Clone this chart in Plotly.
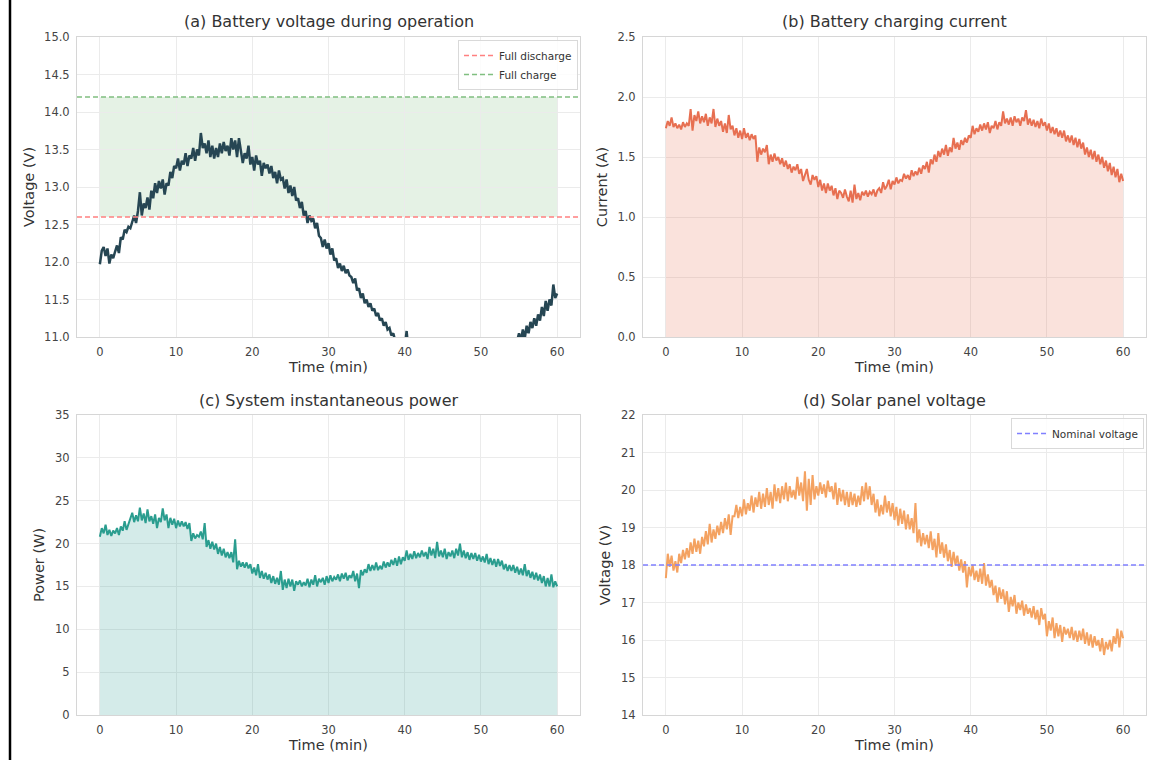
import plotly.graph_objects as go

# ---- data (sampled every 0.25 min, 0..60 min) ----
time_min = [i * 0.25 for i in range(241)]

battery_voltage = [
    11.97, 12.15, 12.20, 12.08, 12.18, 11.98, 12.10, 12.05,
    12.14, 12.22, 12.12, 12.33, 12.30, 12.43, 12.40, 12.47,
    12.45, 12.55, 12.62, 12.52, 12.68, 12.93, 12.62, 12.78,
    12.72, 12.86, 12.70, 12.95, 12.85, 13.05, 12.92, 13.08,
    12.98, 13.10, 12.90, 13.05, 13.02, 13.20, 13.12, 13.28,
    13.25, 13.38, 13.22, 13.35, 13.30, 13.45, 13.28, 13.42,
    13.38, 13.52, 13.35, 13.50, 13.42, 13.72, 13.52, 13.58,
    13.45, 13.62, 13.40, 13.55, 13.38, 13.52, 13.40, 13.58,
    13.45, 13.60, 13.48, 13.55, 13.42, 13.65, 13.50, 13.62,
    13.40, 13.65, 13.48, 13.32, 13.45, 13.38, 13.55, 13.30,
    13.40, 13.22, 13.42, 13.30, 13.35, 13.15, 13.32, 13.25,
    13.30, 13.18, 13.28, 13.12, 13.20, 13.05, 13.22, 13.10,
    13.12, 12.98, 13.10, 12.92, 13.02, 12.88, 13.00, 12.82,
    12.85, 12.72, 12.80, 12.62, 12.68, 12.52, 12.62, 12.55,
    12.58, 12.45, 12.52, 12.35, 12.32, 12.20, 12.30, 12.18,
    12.25, 12.10, 12.18, 12.02, 12.05, 11.92, 11.98, 11.88,
    11.95, 11.85, 11.90, 11.82, 11.80, 11.72, 11.78, 11.62,
    11.65, 11.52, 11.58, 11.45, 11.50, 11.40, 11.45, 11.35,
    11.38, 11.28, 11.32, 11.22, 11.25, 11.15, 11.20, 11.10,
    11.12, 11.02, 11.05, 10.95, 10.98, 10.88, 10.92, 10.82,
    10.85, 11.08, 10.80, 10.75, 10.78, 10.70, 10.98, 10.68,
    10.65, 10.60, 10.62, 10.55, 10.58, 10.50, 10.55, 10.48,
    10.50, 10.42, 10.48, 10.40, 10.45, 10.38, 10.42, 10.35,
    10.40, 10.32, 10.38, 10.30, 10.35, 10.30, 10.36, 10.28,
    10.34, 10.30, 10.38, 10.32, 10.40, 10.35, 10.42, 10.38,
    10.45, 10.40, 10.48, 10.44, 10.52, 10.48, 10.56, 10.52,
    10.60, 10.58, 10.66, 10.62, 10.70, 10.68, 10.76, 10.74,
    10.82, 10.80, 10.92, 10.95, 11.05, 10.95, 11.10, 10.98,
    11.15, 11.05, 11.20, 11.12, 11.25, 11.15, 11.30, 11.22,
    11.40, 11.28, 11.48, 11.35, 11.50, 11.42, 11.70, 11.52,
    11.58,
]

charging_current = [
    1.74, 1.80, 1.76, 1.83, 1.75, 1.78, 1.74, 1.77,
    1.73, 1.79, 1.75, 1.78, 1.76, 1.90, 1.72, 1.85,
    1.80, 1.88, 1.78, 1.84, 1.79, 1.86, 1.76, 1.83,
    1.78, 1.90, 1.75, 1.82, 1.76, 1.80, 1.71, 1.78,
    1.70, 1.85, 1.73, 1.76, 1.68, 1.74, 1.66, 1.72,
    1.65, 1.74, 1.66, 1.70, 1.64, 1.69, 1.65, 1.68,
    1.46, 1.58, 1.52, 1.57, 1.54, 1.60, 1.44, 1.52,
    1.46, 1.53, 1.47, 1.50, 1.44, 1.49, 1.42, 1.47,
    1.40, 1.44, 1.37, 1.42, 1.39, 1.44, 1.36, 1.40,
    1.30, 1.35, 1.40, 1.31, 1.27, 1.35, 1.31, 1.34,
    1.25, 1.31, 1.22, 1.28, 1.20, 1.28, 1.22, 1.26,
    1.18, 1.24, 1.15, 1.22, 1.20, 1.16, 1.23, 1.17,
    1.13, 1.22, 1.12, 1.27, 1.15, 1.20, 1.14, 1.21,
    1.18, 1.22, 1.17, 1.21, 1.19, 1.23, 1.17, 1.22,
    1.24, 1.20, 1.29, 1.23, 1.26, 1.31, 1.23, 1.30,
    1.27, 1.33, 1.28, 1.31, 1.30, 1.36, 1.32, 1.35,
    1.31, 1.39, 1.34, 1.38, 1.35, 1.41, 1.36, 1.43,
    1.40, 1.46, 1.37, 1.48, 1.44, 1.52, 1.46, 1.55,
    1.50, 1.57, 1.52, 1.60, 1.51, 1.58, 1.54, 1.66,
    1.57, 1.62, 1.56, 1.64, 1.60, 1.66, 1.62, 1.68,
    1.66, 1.76, 1.69, 1.74, 1.71, 1.77, 1.72, 1.78,
    1.73, 1.79, 1.70, 1.76, 1.74, 1.80, 1.73, 1.79,
    1.76, 1.88, 1.78, 1.82, 1.77, 1.83, 1.76, 1.84,
    1.79, 1.82, 1.76, 1.83, 1.80, 1.89, 1.77, 1.82,
    1.76, 1.81, 1.75, 1.80, 1.74, 1.82, 1.76, 1.79,
    1.72, 1.78, 1.70, 1.75, 1.69, 1.74, 1.67, 1.72,
    1.66, 1.72, 1.63, 1.68, 1.62, 1.68, 1.60, 1.66,
    1.58, 1.65, 1.57, 1.62, 1.52, 1.58, 1.50, 1.56,
    1.48, 1.55, 1.46, 1.52, 1.44, 1.50, 1.41, 1.47,
    1.38, 1.45, 1.35, 1.42, 1.33, 1.40, 1.29, 1.36,
    1.30,
]

system_power = [
    20.8, 21.8, 21.2, 22.2, 21.0, 21.6, 20.9, 21.5,
    21.2, 21.8, 21.0, 22.0, 21.5, 22.6, 21.6, 22.3,
    22.8, 23.6, 22.5, 23.3, 22.6, 24.2, 22.7, 23.5,
    22.4, 24.0, 22.6, 23.2, 22.3, 23.4, 21.8, 23.0,
    22.5, 24.1, 22.7, 23.4, 21.8, 23.0, 22.2, 22.9,
    21.8, 22.7, 22.0, 22.6, 22.0, 22.5, 21.7, 22.4,
    20.3, 21.2, 20.6, 21.0, 20.8, 21.4, 20.5, 22.4,
    19.6, 20.4, 19.4, 20.2, 19.3, 20.0, 18.8, 19.6,
    18.6, 19.4, 18.4, 19.0, 18.3, 19.0, 17.8, 20.5,
    17.0, 18.0, 17.3, 17.8, 17.2, 17.8, 17.1, 17.6,
    16.5, 17.2, 16.3, 17.6, 16.0, 16.8, 15.9, 16.6,
    15.8, 16.4, 15.4, 16.2, 15.3, 16.0, 15.2, 16.8,
    14.6, 15.8, 14.8, 15.9, 15.0, 15.8, 14.5, 15.6,
    15.2, 15.7, 15.0, 15.5, 15.1, 15.9, 14.9, 15.8,
    15.2, 16.3, 15.0, 15.9, 15.5, 16.0, 15.2, 16.2,
    15.4, 16.3, 15.6, 16.1, 15.8, 16.4, 15.6, 16.5,
    15.9, 16.6, 15.7, 16.3, 16.0, 16.8, 15.6, 16.5,
    14.8, 16.9, 16.3, 17.0, 16.6, 17.6, 16.8, 17.5,
    16.9, 17.8, 16.9, 17.4, 17.0, 17.9, 17.2, 17.8,
    17.3, 18.1, 17.5, 18.3, 17.4, 18.5, 17.6, 18.4,
    18.0, 19.2, 18.1, 18.8, 18.2, 19.1, 18.3, 18.9,
    18.4, 19.2, 18.5, 19.0, 18.2, 19.6, 18.6, 19.4,
    18.3, 20.2, 18.5, 19.2, 18.4, 19.4, 18.2, 19.0,
    18.5, 19.2, 18.3, 19.4, 18.6, 20.0, 18.4, 19.2,
    18.3, 19.0, 18.1, 18.9, 18.2, 18.9, 18.0, 18.7,
    17.9, 18.5, 17.8, 18.8, 17.6, 18.3, 17.5, 18.2,
    17.3, 18.2, 17.4, 18.0, 17.0, 17.6, 16.8, 17.5,
    16.8, 17.5, 16.6, 17.3, 16.4, 17.1, 16.3, 17.6,
    16.2, 16.9, 16.0, 16.7, 15.8, 16.6, 15.7, 16.4,
    15.4, 16.2, 15.0, 16.0, 15.0, 16.4, 14.9, 15.6,
    15.0,
]

solar_voltage = [
    17.65, 18.30, 17.95, 18.25, 17.85, 18.10, 17.80, 18.30,
    18.05, 18.40, 18.15, 18.45, 18.20, 18.60, 18.30, 18.70,
    18.35, 18.65, 18.30, 18.75, 18.50, 18.90, 18.55, 19.10,
    18.60, 18.95, 18.70, 19.05, 18.80, 19.15, 18.85, 19.25,
    18.95, 19.35, 18.80, 19.30, 19.30, 19.60, 19.25, 19.55,
    19.30, 19.75, 19.35, 19.65, 19.45, 19.85, 19.40, 19.80,
    19.55, 19.95, 19.50, 19.90, 19.55, 20.05, 19.60, 19.95,
    19.50, 20.15, 19.70, 20.05, 19.65, 20.10, 19.75, 20.20,
    19.70, 20.10, 19.80, 20.00, 19.75, 20.35, 19.85, 20.20,
    19.70, 20.50, 19.45, 20.30, 19.60, 20.40, 19.75, 20.10,
    19.85, 20.20, 19.90, 20.15, 19.80, 20.25, 19.95, 20.10,
    19.75, 20.20, 19.60, 20.05, 19.70, 20.00, 19.60, 19.95,
    19.55, 19.95, 19.60, 19.90, 19.55, 19.85, 19.60, 20.10,
    19.70, 20.20, 19.75, 20.10, 19.60, 19.90, 19.40, 19.75,
    19.30, 19.60, 19.35, 19.85, 19.40, 19.70, 19.30, 19.65,
    19.20, 19.55, 19.05, 19.50, 19.10, 19.45, 18.95, 19.35,
    18.95, 19.25, 18.85, 19.65, 18.60, 18.95, 18.50, 18.85,
    18.55, 18.80, 18.45, 18.90, 18.40, 18.70, 18.20, 18.85,
    18.30, 18.60, 18.20, 18.55, 18.10, 18.40, 17.95, 18.35,
    18.00, 18.25, 17.85, 18.15, 17.80, 18.10, 17.40, 17.95,
    17.70, 18.00, 17.60, 17.85, 17.55, 17.90, 17.50, 18.05,
    17.45, 17.75, 17.40, 17.60, 17.20, 17.45, 17.00, 17.40,
    17.10, 17.35, 16.95, 17.30, 16.75, 17.15, 16.90, 17.20,
    16.70, 17.00, 16.80, 17.05, 16.65, 16.95, 16.70, 16.85,
    16.60, 16.90, 16.55, 16.80, 16.40, 16.85, 16.55, 16.70,
    16.10, 16.50, 16.25, 16.60, 16.05, 16.45, 16.10, 16.40,
    15.95, 16.35, 16.15, 16.30, 16.05, 16.35, 16.00, 16.25,
    15.95, 16.25, 16.00, 16.30, 15.90, 16.20, 15.85, 16.15,
    15.80, 16.10, 15.85, 16.00, 15.70, 16.05, 15.60, 15.95,
    15.75, 16.00, 15.70, 16.10, 15.90, 16.30, 15.80, 16.25,
    16.05,
]

FULL_DISCHARGE_V = 12.6
FULL_CHARGE_V = 14.2
NOMINAL_SOLAR_V = 18.0

panel_titles = [
    "(a) Battery voltage during operation",
    "(b) Battery charging current",
    "(c) System instantaneous power",
    "(d) Solar panel voltage",
]
y_titles = ["Voltage (V)", "Current (A)", "Power (W)", "Voltage (V)"]
x_title = "Time (min)"
x_ticks = [0, 10, 20, 30, 40, 50, 60]

# ---- styling ----
W, H = 1150, 760
C_BATT = "#264653"
C_CURR = "#E76F51"
C_POW = "#2A9D8F"
C_SOLAR = "#F4A261"
TXT = "#333333"
TICK = "#444444"
GRID = "#ebebeb"
SPINE = "#d6d6d6"
FONT = "DejaVu Sans"

# plot areas in pixels: (left, right, top, bottom)
boxes = [(77, 580, 37, 337), (643, 1146, 37, 337),
         (77, 580, 415, 715), (643, 1146, 415, 715)]
X_RANGE = [-3, 63]
y_ranges = [[11.0, 15.0], [0, 2.5], [0, 35], [14, 22]]
y_dticks = [0.5, 0.5, 5, 1]
y_fmts = [".1f", ".1f", "d", "d"]

fig = go.Figure()

ax_names = [("x", "y"), ("x2", "y2"), ("x3", "y3"), ("x4", "y4")]

# (a) battery voltage
fig.add_trace(go.Scatter(x=time_min, y=battery_voltage, mode="lines",
                         line=dict(color=C_BATT, width=2.5), showlegend=False,
                         xaxis="x", yaxis="y"))
fig.add_trace(go.Scatter(x=X_RANGE, y=[FULL_DISCHARGE_V] * 2, mode="lines",
                         line=dict(color="#ff8080", width=1.3, dash="5px,3px"),
                         name="Full discharge", legend="legend", xaxis="x", yaxis="y"))
fig.add_trace(go.Scatter(x=X_RANGE, y=[FULL_CHARGE_V] * 2, mode="lines",
                         line=dict(color="#80bf80", width=1.3, dash="5px,3px"),
                         name="Full charge", legend="legend", xaxis="x", yaxis="y"))
fig.add_shape(type="rect", xref="x", yref="y", x0=time_min[0], x1=time_min[-1],
              y0=FULL_DISCHARGE_V, y1=FULL_CHARGE_V,
              fillcolor="rgba(0,128,0,0.1)", line=dict(width=0), layer="below")

# (b) charging current
fig.add_trace(go.Scatter(x=time_min, y=charging_current, mode="lines", fill="tozeroy",
                         fillcolor="rgba(231,111,81,0.2)",
                         line=dict(color=C_CURR, width=2.0), showlegend=False,
                         xaxis="x2", yaxis="y2"))

# (c) power
fig.add_trace(go.Scatter(x=time_min, y=system_power, mode="lines", fill="tozeroy",
                         fillcolor="rgba(42,157,143,0.2)",
                         line=dict(color=C_POW, width=2.0), showlegend=False,
                         xaxis="x3", yaxis="y3"))

# (d) solar voltage
fig.add_trace(go.Scatter(x=time_min, y=solar_voltage, mode="lines",
                         line=dict(color=C_SOLAR, width=2.0), showlegend=False,
                         xaxis="x4", yaxis="y4"))
fig.add_trace(go.Scatter(x=X_RANGE, y=[NOMINAL_SOLAR_V] * 2, mode="lines",
                         line=dict(color="#8080ff", width=1.3, dash="5px,3px"),
                         name="Nominal voltage", legend="legend2", xaxis="x4", yaxis="y4"))

layout = dict(
    width=W, height=H, autosize=False,
    margin=dict(l=0, r=0, t=0, b=0, autoexpand=False),
    paper_bgcolor="white", plot_bgcolor="white",
    font=dict(family=FONT, color=TXT),
)

annotations = []
for i, ((l, r, t, b), (xn, yn)) in enumerate(zip(boxes, ax_names)):
    sfx = "" if i == 0 else str(i + 1)
    common = dict(showline=True, linecolor=SPINE, linewidth=1, mirror=True,
                  showgrid=True, gridcolor=GRID, gridwidth=1, zeroline=False,
                  automargin=False,
                  ticks="outside", ticklen=4, tickcolor="rgba(0,0,0,0)",
                  tickfont=dict(family=FONT, size=11.5, color=TICK))
    layout["xaxis" + sfx] = dict(
        common, domain=[l / W, r / W], anchor=yn, range=X_RANGE,
        tickmode="array", tickvals=x_ticks,
        title=dict(text=x_title, font=dict(family=FONT, size=14.5, color=TXT), standoff=4),
    )
    layout["yaxis" + sfx] = dict(
        common, domain=[1 - b / H, 1 - t / H], anchor=xn, range=y_ranges[i],
        tick0=y_ranges[i][0], dtick=y_dticks[i], tickformat=y_fmts[i],
        title=dict(text=y_titles[i], font=dict(family=FONT, size=14.5, color=TXT), standoff=6),
    )
    annotations.append(dict(
        text=panel_titles[i], xref="paper", yref="paper",
        x=(l + r) / 2 / W, y=1 - (t - 15) / H, xanchor="center", yanchor="middle",
        showarrow=False, font=dict(family=FONT, size=16, color=TXT)))

layout["annotations"] = annotations
layout["legend"] = dict(
    x=578 / W, y=1 - 40 / H, xanchor="right", yanchor="top",
    bgcolor="rgba(255,255,255,0.85)", bordercolor="#d9d9d9", borderwidth=1,
    font=dict(family=FONT, size=10.5, color=TXT), itemwidth=30, tracegroupgap=0)
layout["legend2"] = dict(
    x=1144 / W, y=1 - 418 / H, xanchor="right", yanchor="top",
    bgcolor="rgba(255,255,255,0.85)", bordercolor="#d9d9d9", borderwidth=1,
    font=dict(family=FONT, size=10.5, color=TXT), itemwidth=30)
layout["shapes"] = list(fig.layout.shapes) + [dict(
    type="line", xref="paper", yref="paper", x0=10 / W, x1=10 / W, y0=0, y1=1,
    line=dict(color="black", width=2.5))]

fig.update_layout(**layout)
fig.write_html("out.html", config={"displayModeBar": False},
               post_script="document.body.style.margin='0';document.body.style.overflow='hidden';")
